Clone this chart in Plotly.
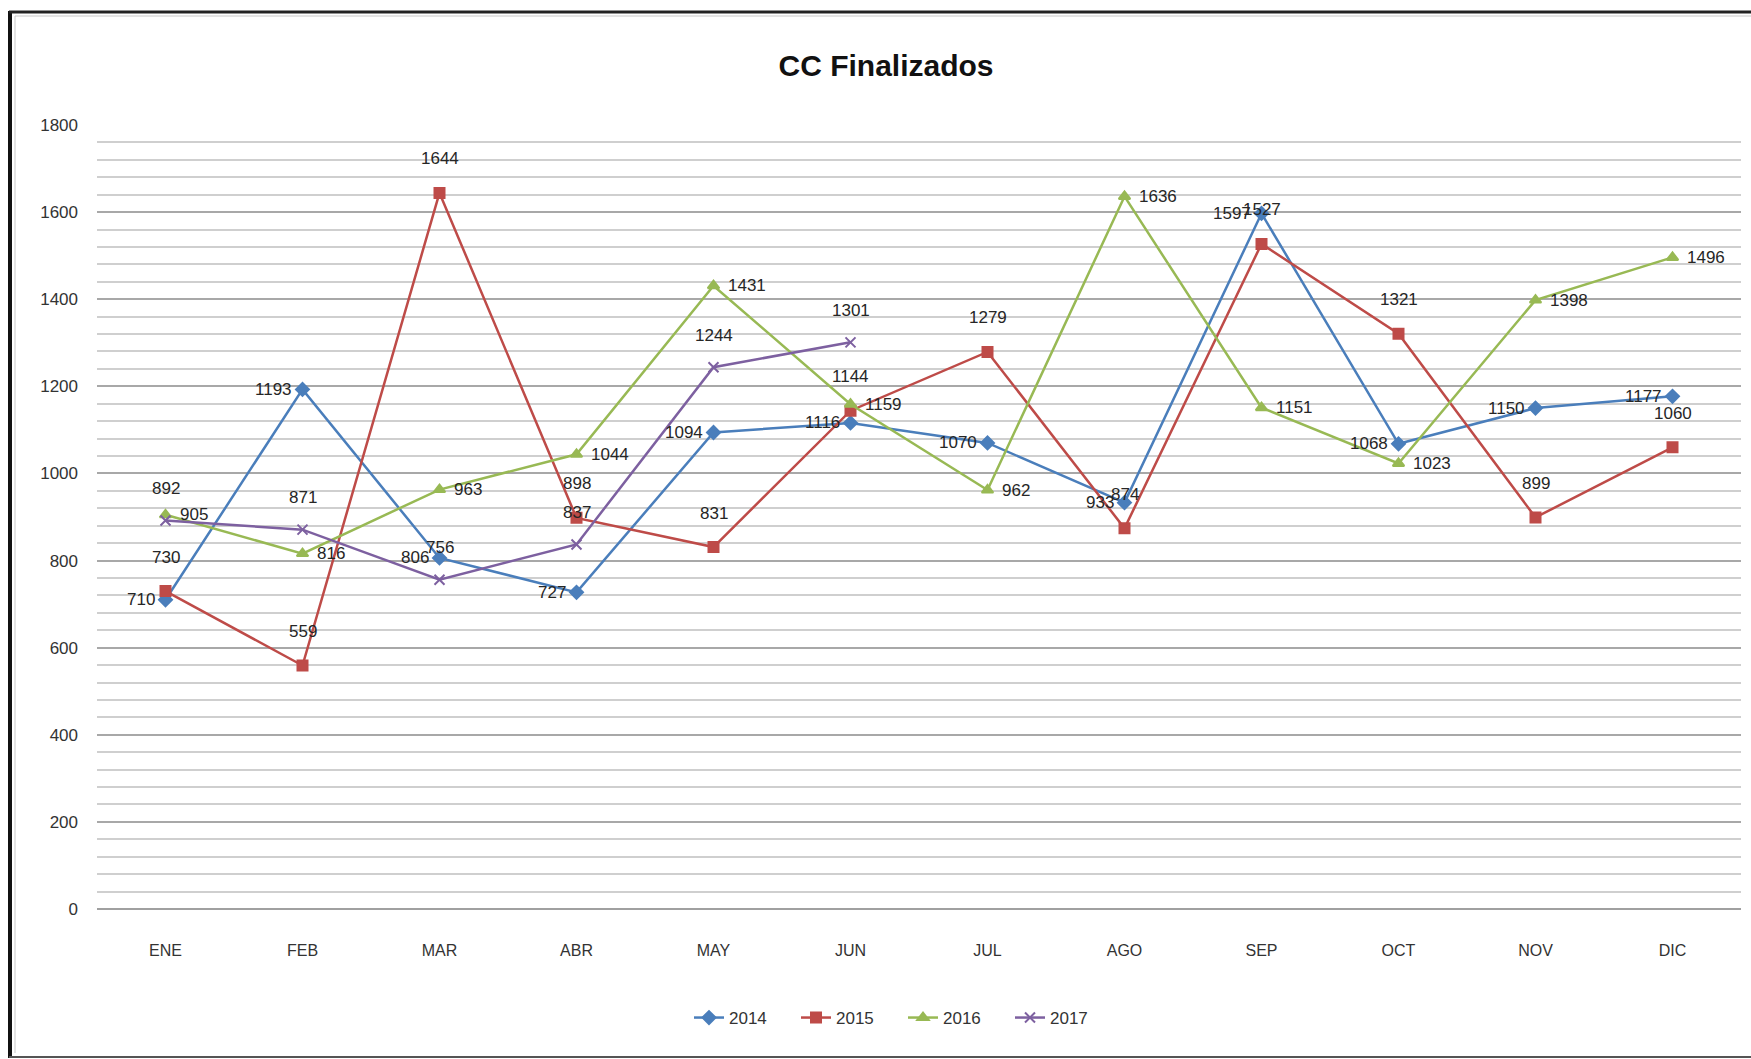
import plotly.graph_objects as go

months = ["ENE", "FEB", "MAR", "ABR", "MAY", "JUN", "JUL", "AGO", "SEP", "OCT", "NOV", "DIC"]
v2014 = [710, 1193, 806, 727, 1094, 1116, 1070, 933, 1597, 1068, 1150, 1177]
v2015 = [730, 559, 1644, 898, 831, 1144, 1279, 874, 1527, 1321, 899, 1060]
v2016 = [905, 816, 963, 1044, 1431, 1159, 962, 1636, 1151, 1023, 1398, 1496]
v2017 = [892, 871, 756, 837, 1244, 1301]
y_ticks = [0, 200, 400, 600, 800, 1000, 1200, 1400, 1600, 1800]

W, H = 1751, 1059
L, R, T, B = 97, 1741, 125, 909
FONT = "Liberation Sans, Arial, sans-serif"

series = [
    ("2014", v2014, "#4A7EBB", "diamond", 10, dict(xanchor="right", yanchor="middle", xshift=-9, yshift=0)),
    ("2015", v2015, "#BE4B48", "square", 10, dict(xanchor="center", yanchor="middle", xshift=0, yshift=34)),
    ("2016", v2016, "#98B954", "triangle-up", 10, dict(xanchor="left", yanchor="middle", xshift=12, yshift=0)),
    ("2017", v2017, "#7D60A0", "x-thin-open", 10, dict(xanchor="center", yanchor="middle", xshift=0, yshift=32)),
]

fig = go.Figure()
annotations = []
for name, vals, color, sym, ms, lab in series:
    fig.add_trace(go.Scatter(
        x=months[:len(vals)], y=vals, name=name, mode="lines+markers",
        line=dict(color=color, width=2.5),
        marker=dict(symbol=sym, size=ms, color=color, line=dict(color=color, width=2)),
    ))
    for m, v in zip(months, vals):
        annotations.append(dict(
            x=m, y=v, xref="x", yref="y", text=str(v), showarrow=False,
            font=dict(family=FONT, size=17, color="#262626"), **lab))

def px(x):
    return (x - L) / (R - L)

def py(y):
    return (B - y) / (B - T)

shapes = [
    dict(type="line", xref="paper", yref="paper", x0=px(10), x1=px(10), y0=py(11), y1=py(1058),
         line=dict(color="#111111", width=4)),
    dict(type="line", xref="paper", yref="paper", x0=px(9), x1=px(1751), y0=py(12), y1=py(12),
         line=dict(color="#222222", width=3)),
    dict(type="line", xref="paper", yref="paper", x0=px(9), x1=px(1751), y0=py(1057), y1=py(1057),
         line=dict(color="#555555", width=2)),
    dict(type="line", xref="paper", yref="paper", x0=px(15), x1=px(1751), y0=py(16), y1=py(16),
         line=dict(color="#c8c8c8", width=1)),
    dict(type="line", xref="paper", yref="paper", x0=px(15), x1=px(15), y0=py(16), y1=py(1053),
         line=dict(color="#c8c8c8", width=1)),
]

fig.update_layout(
    width=W, height=H,
    margin=dict(l=L, r=W - R, t=T, b=H - B),
    paper_bgcolor="white", plot_bgcolor="white",
    title=dict(text="<b>CC Finalizados</b>", x=886 / W, xanchor="center", xref="container",
               y=1 - 65 / H, yanchor="middle", yref="container",
               font=dict(family=FONT, size=30, color="#111111")),
    xaxis=dict(type="category", categoryorder="array", categoryarray=months,
               range=[-0.5, 11.5], showgrid=False, zeroline=False, showline=False,
               ticks="", ticklabelstandoff=30,
               tickfont=dict(family=FONT, size=16, color="#333333")),
    yaxis=dict(range=[0, 1800], tickvals=y_ticks, showgrid=True, gridcolor="#a8a8a8", gridwidth=2,
               zeroline=True, zerolinecolor="#a0a0a0", zerolinewidth=2, showline=False,
               ticks="", ticklabelstandoff=18,
               tickfont=dict(family=FONT, size=17, color="#333333"),
               minor=dict(dtick=40, showgrid=True, gridcolor="#cfcfcf", gridwidth=2)),
    showlegend=True,
    legend=dict(orientation="h", x=px(903), xanchor="center", y=py(1018), yanchor="middle",
                xref="paper", yref="paper", font=dict(family=FONT, size=17, color="#333333"),
                itemwidth=30, entrywidth=62, entrywidthmode="pixels",
                tracegroupgap=0, bgcolor="rgba(0,0,0,0)"),
    annotations=annotations,
    shapes=shapes,
)

fig.write_html("out.html", config={"displayModeBar": False},
               post_script="document.body.style.margin='0';document.body.style.overflow='hidden';")
